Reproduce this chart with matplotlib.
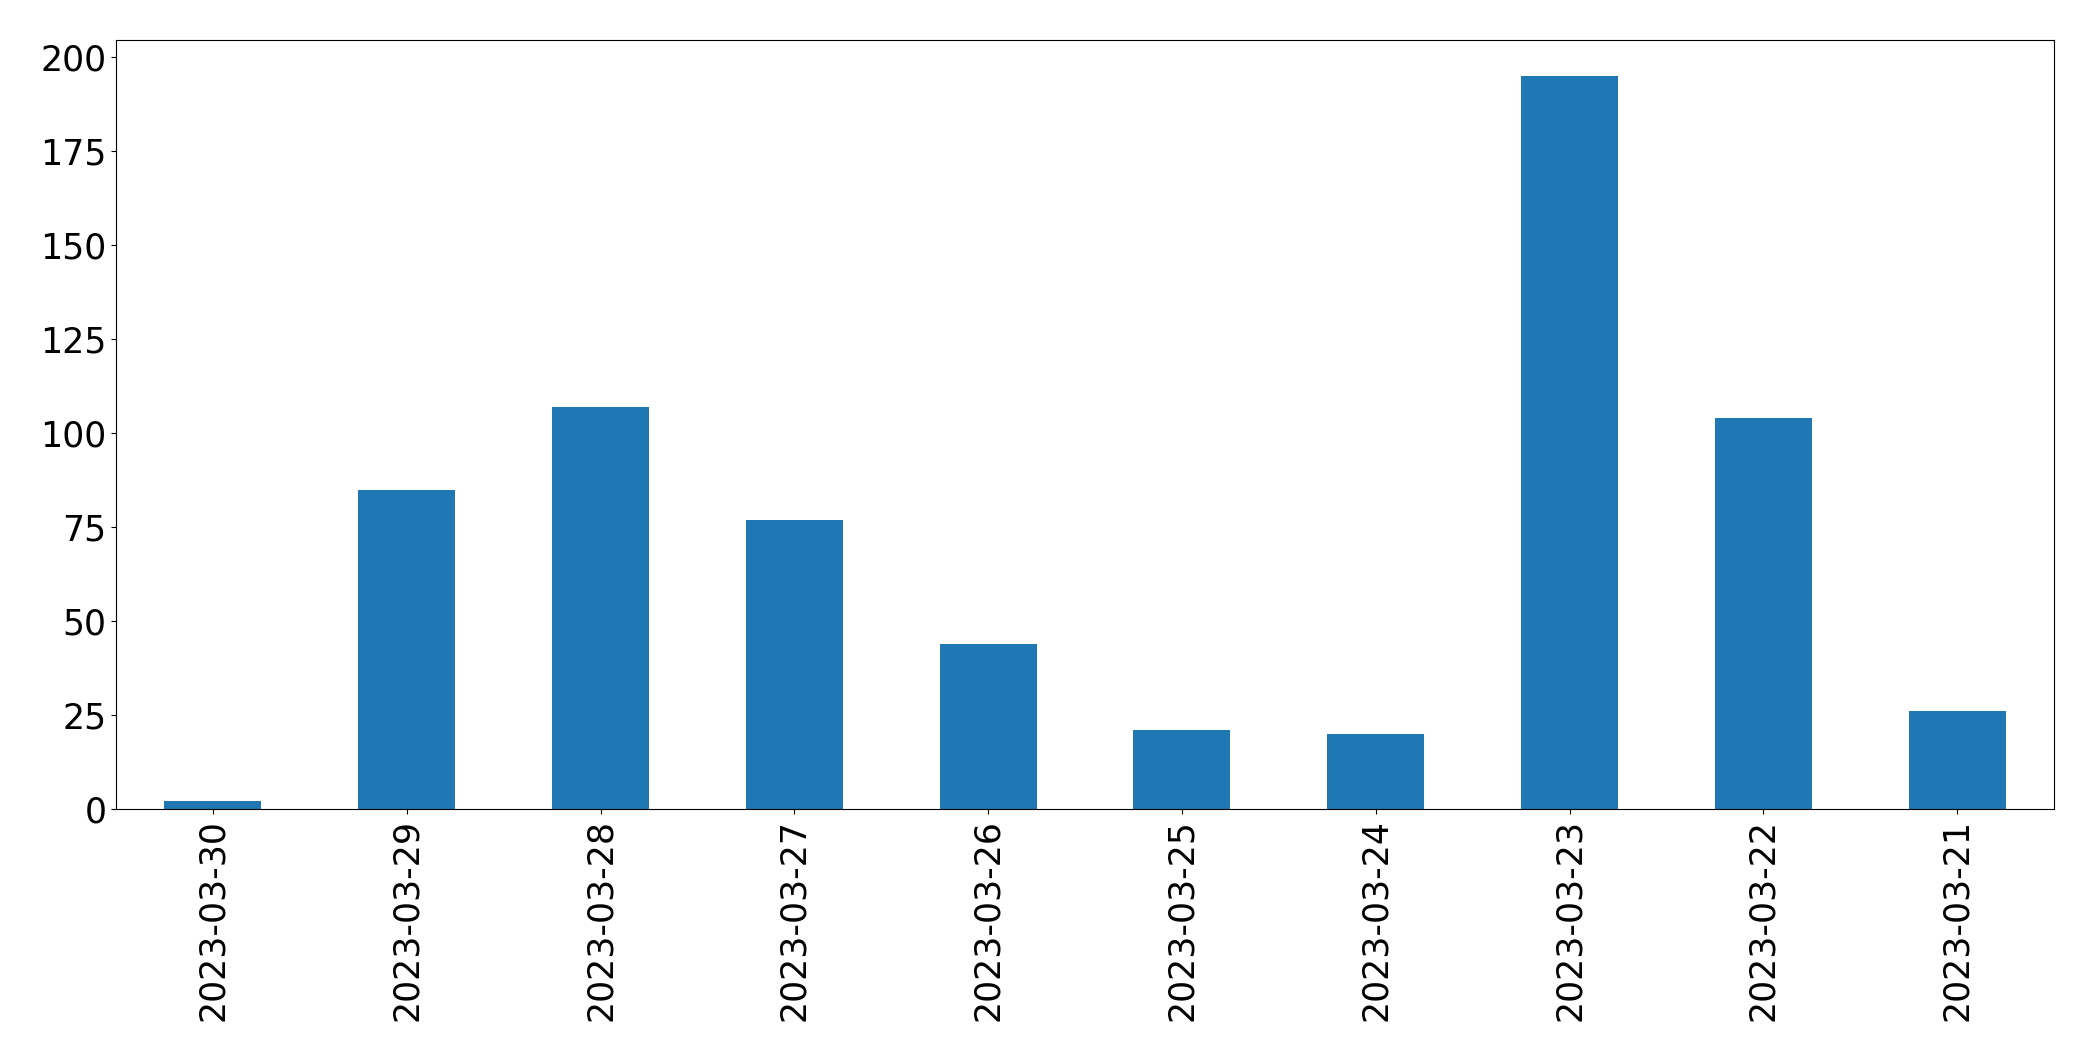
import matplotlib
matplotlib.use("Agg")
import matplotlib.pyplot as plt
import pandas as pd

dates = ["2023-03-30", "2023-03-29", "2023-03-28", "2023-03-27", "2023-03-26",
         "2023-03-25", "2023-03-24", "2023-03-23", "2023-03-22", "2023-03-21"]
counts = [2, 85, 107, 77, 44, 21, 20, 195, 104, 26]

s = pd.Series(counts, index=dates)

fig = plt.figure(figsize=(20.93, 10.61), dpi=100)
ax = fig.add_axes([116/2093, 1 - 809/1061, (2054-116)/2093, (809-39.5)/1061])
s.plot(kind="bar", ax=ax, color="#1f77b4", fontsize=25)
ax.tick_params(axis="both", labelsize=25)
fig.savefig("out.png", dpi=100)
